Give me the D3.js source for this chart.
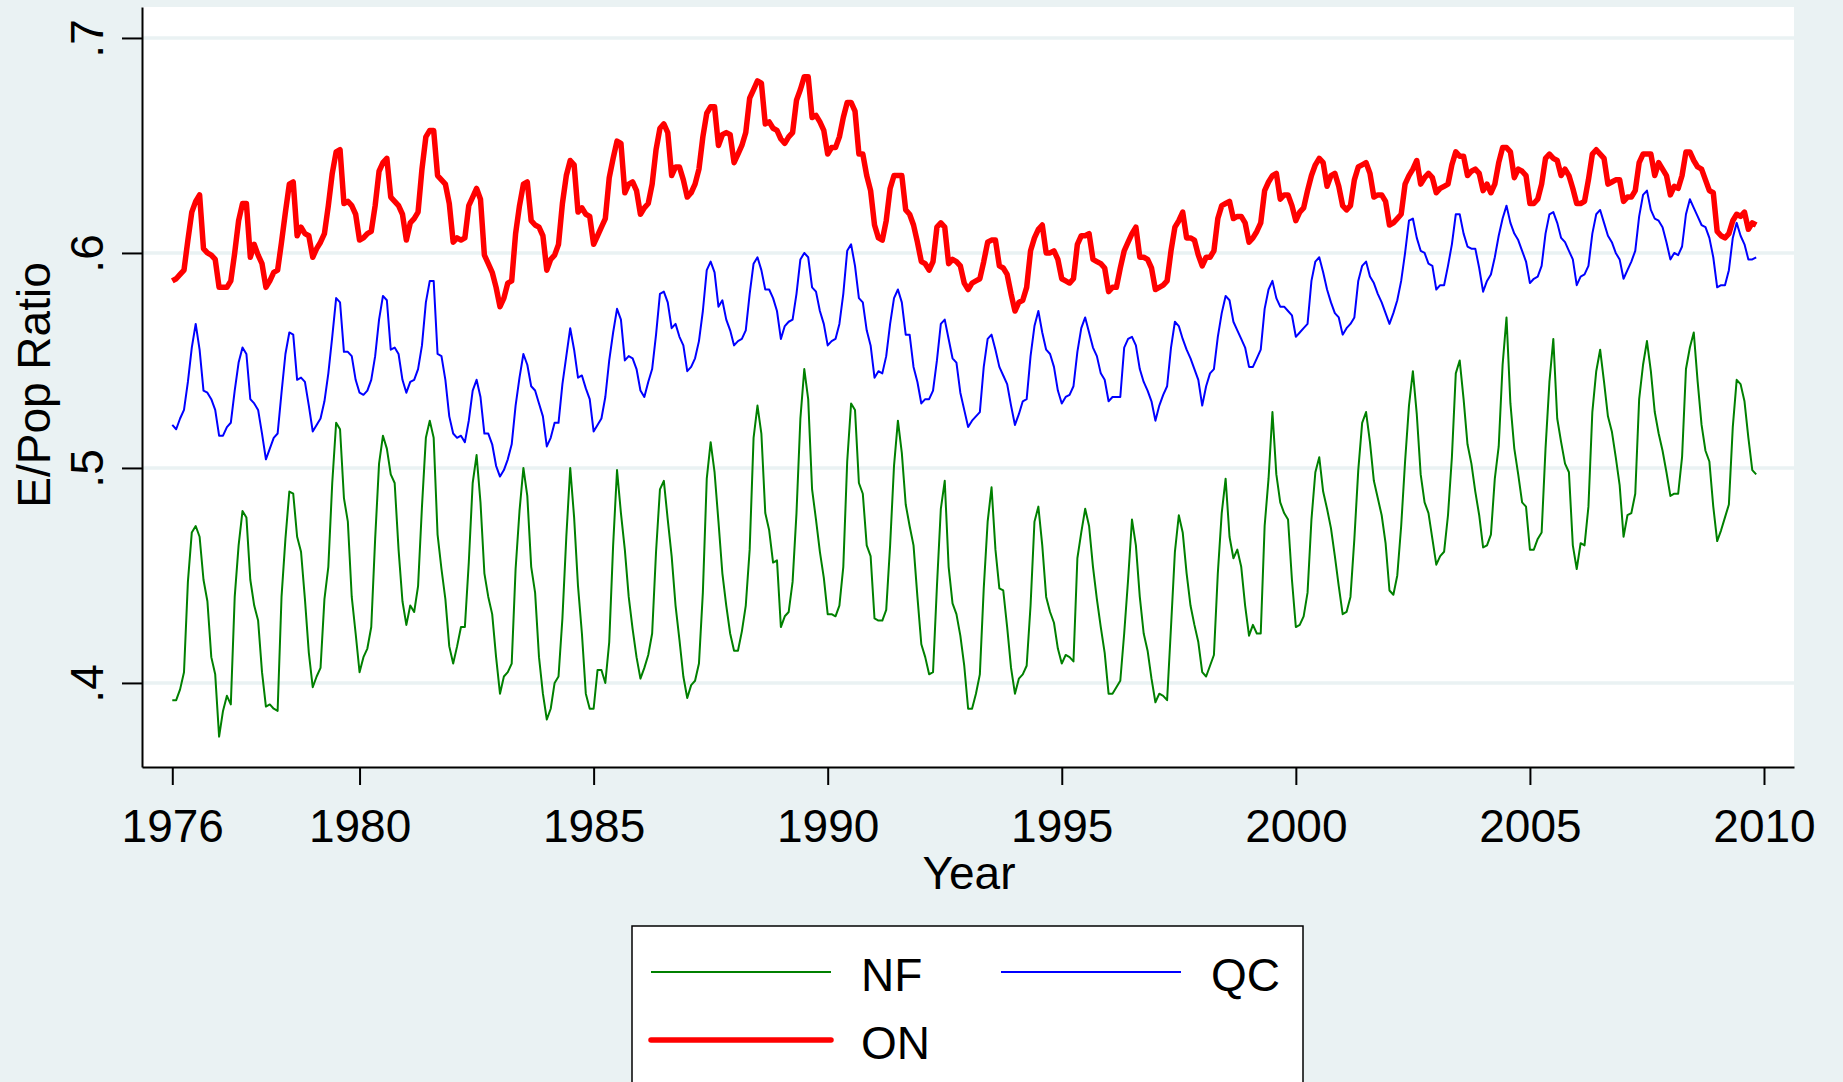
<!doctype html>
<html>
<head>
<meta charset="utf-8">
<style>
    body { margin: 0; background: #eaf2f3; }
    svg { display: block; font-family: "Liberation Sans", Arial, sans-serif; }
    .grid line { stroke: #eaf2f3; stroke-width: 3.5; }
    .axis path, .axis line { stroke: #000; stroke-width: 2; }
    .axis text { font-size: 46px; fill: #000; }
</style>
<script src="https://d3js.org/d3.v7.min.js"></script>
</head>
<body>
<svg width="1843" height="1082"></svg>
<script>
    // monthly series, Jan 1976 .. Nov 2009 (one row per year)
    var startYear = 1976;

    var nf = [
        .392,.392,.397,.405,.447,.470,.473,.468,.448,.438,.412,.404,
        .375,.387,.394,.390,.440,.464,.480,.477,.448,.436,.429,.405,
        .389,.390,.388,.387,.440,.467,.489,.488,.468,.461,.439,.414,
        .398,.403,.407,.439,.454,.493,.521,.518,.486,.475,.440,.423,
        .405,.412,.416,.426,.467,.502,.515,.509,.497,.493,.462,.438,
        .427,.436,.433,.445,.482,.514,.522,.514,.469,.453,.439,.417,
        .409,.417,.426,.426,.456,.493,.506,.484,.451,.440,.432,.412,
        .395,.403,.405,.409,.453,.480,.500,.487,.454,.442,.412,.395,
        .383,.388,.400,.403,.430,.468,.500,.477,.445,.423,.395,.388,
        .388,.406,.406,.400,.419,.464,.499,.479,.462,.440,.425,.412,
        .402,.407,.413,.423,.461,.490,.494,.476,.459,.436,.420,.403,
        .393,.399,.401,.409,.442,.495,.512,.498,.475,.451,.436,.423,
        .415,.415,.424,.436,.462,.514,.529,.516,.479,.471,.456,.457,
        .426,.431,.433,.447,.479,.523,.546,.532,.490,.476,.461,.449,
        .432,.432,.431,.436,.454,.503,.530,.527,.493,.488,.464,.459,
        .430,.429,.429,.434,.464,.501,.522,.507,.483,.473,.464,.440,
        .418,.412,.404,.405,.445,.481,.494,.454,.437,.432,.422,.408,
        .388,.388,.395,.404,.444,.475,.491,.462,.444,.443,.426,.407,
        .395,.402,.404,.408,.436,.475,.482,.464,.440,.433,.428,.416,
        .409,.413,.412,.410,.458,.470,.481,.473,.454,.439,.426,.414,
        .395,.395,.398,.401,.423,.448,.476,.464,.440,.423,.415,.402,
        .391,.395,.394,.392,.426,.461,.478,.470,.451,.436,.427,.419,
        .405,.403,.408,.413,.451,.479,.495,.468,.458,.462,.454,.436,
        .422,.427,.423,.423,.473,.495,.526,.497,.484,.479,.476,.448,
        .426,.427,.431,.442,.476,.498,.505,.489,.481,.472,.459,.445,
        .432,.433,.440,.467,.499,.521,.526,.512,.494,.486,.478,.465,
        .443,.441,.450,.473,.503,.529,.545,.525,.497,.484,.479,.467,
        .455,.459,.461,.478,.505,.544,.550,.532,.511,.502,.489,.478,
        .463,.464,.469,.495,.510,.548,.570,.530,.509,.497,.484,.482,
        .462,.462,.467,.470,.509,.540,.560,.523,.512,.502,.498,.464,
        .453,.465,.464,.482,.526,.545,.555,.540,.524,.517,.505,.492,
        .468,.478,.479,.488,.532,.548,.559,.545,.526,.516,.508,.498,
        .487,.488,.488,.505,.546,.556,.563,.540,.520,.508,.503,.482,
        .466,.471,.477,.483,.519,.541,.539,.531,.514,.499,.497
    ];

    var qc = [
        .520,.518,.523,.527,.540,.556,.567,.555,.536,.535,.532,.527,
        .515,.515,.519,.521,.536,.549,.556,.553,.532,.530,.527,.516,
        .504,.509,.514,.516,.535,.553,.563,.562,.541,.542,.540,.529,
        .517,.520,.523,.531,.544,.561,.579,.577,.554,.554,.552,.541,
        .535,.534,.536,.541,.552,.569,.580,.578,.555,.556,.553,.541,
        .535,.540,.541,.546,.557,.577,.587,.587,.553,.552,.541,.524,
        .516,.514,.515,.512,.522,.536,.541,.533,.516,.516,.511,.501,
        .496,.499,.504,.511,.529,.542,.553,.548,.538,.536,.530,.524,
        .510,.514,.521,.521,.539,.552,.565,.555,.542,.543,.537,.532,
        .517,.520,.523,.533,.550,.563,.574,.569,.550,.552,.551,.546,
        .536,.533,.540,.546,.562,.581,.582,.577,.565,.567,.561,.557,
        .545,.547,.551,.559,.573,.592,.596,.591,.575,.578,.569,.564,
        .557,.559,.560,.564,.581,.595,.598,.592,.583,.583,.579,.573,
        .560,.566,.568,.569,.581,.597,.600,.598,.584,.582,.573,.567,
        .557,.559,.560,.567,.581,.601,.604,.594,.579,.577,.564,.557,
        .542,.545,.544,.552,.567,.579,.583,.577,.562,.562,.547,.540,
        .530,.532,.532,.536,.550,.567,.569,.560,.551,.549,.535,.527,
        .519,.522,.524,.526,.547,.560,.562,.555,.547,.543,.539,.529,
        .520,.525,.531,.532,.552,.566,.573,.563,.555,.553,.547,.536,
        .530,.533,.534,.538,.554,.565,.570,.563,.556,.552,.544,.541,
        .531,.533,.533,.533,.556,.560,.561,.557,.546,.540,.536,.531,
        .522,.529,.534,.538,.556,.568,.566,.560,.555,.551,.546,.541,
        .529,.538,.544,.546,.561,.572,.580,.578,.568,.564,.560,.556,
        .547,.547,.551,.555,.574,.583,.587,.579,.575,.575,.573,.571,
        .561,.563,.565,.567,.587,.596,.598,.591,.583,.577,.572,.570,
        .562,.565,.567,.570,.587,.594,.596,.589,.586,.581,.577,.572,
        .567,.572,.578,.587,.600,.615,.616,.607,.601,.600,.595,.594,
        .583,.585,.585,.594,.604,.618,.618,.609,.603,.602,.602,.593,
        .582,.587,.590,.598,.608,.616,.622,.614,.609,.606,.601,.596,
        .586,.588,.589,.594,.609,.618,.619,.614,.607,.605,.601,.597,
        .585,.589,.590,.594,.609,.618,.620,.614,.608,.605,.600,.597,
        .588,.592,.596,.601,.617,.627,.629,.620,.616,.615,.612,.605,
        .597,.600,.599,.603,.618,.625,.621,.617,.613,.612,.607,.598,
        .584,.585,.585,.592,.607,.614,.608,.604,.597,.597,.598
    ];

    var on = [
        .587,.588,.590,.592,.606,.619,.624,.627,.602,.600,.599,.597,
        .584,.584,.584,.587,.600,.615,.623,.623,.598,.604,.599,.595,
        .584,.587,.591,.592,.605,.619,.632,.633,.608,.612,.609,.608,
        .598,.602,.605,.609,.622,.637,.647,.648,.623,.624,.622,.618,
        .606,.607,.609,.610,.622,.638,.642,.644,.626,.624,.622,.618,
        .606,.614,.616,.619,.639,.654,.657,.657,.636,.634,.632,.623,
        .605,.607,.606,.607,.622,.626,.630,.625,.599,.595,.591,.584,
        .575,.579,.586,.587,.609,.622,.632,.633,.615,.613,.612,.608,
        .592,.597,.599,.604,.623,.636,.643,.641,.619,.621,.618,.617,
        .604,.608,.612,.616,.635,.644,.652,.651,.628,.632,.633,.629,
        .618,.621,.623,.632,.648,.658,.660,.656,.636,.640,.640,.634,
        .626,.628,.632,.639,.654,.665,.668,.668,.650,.655,.656,.655,
        .642,.646,.650,.656,.672,.676,.680,.679,.660,.661,.658,.657,
        .653,.651,.654,.656,.671,.676,.682,.682,.663,.664,.661,.657,
        .646,.649,.649,.654,.663,.670,.670,.666,.646,.646,.636,.629,
        .613,.607,.606,.615,.630,.636,.636,.636,.620,.618,.613,.605,
        .596,.595,.592,.596,.612,.614,.612,.595,.597,.596,.594,.586,
        .583,.586,.587,.588,.596,.605,.606,.606,.594,.593,.590,.581,
        .573,.577,.578,.584,.601,.607,.611,.613,.600,.600,.601,.597,
        .588,.587,.586,.588,.604,.608,.608,.609,.597,.596,.595,.593,
        .582,.584,.584,.593,.601,.605,.609,.612,.598,.598,.597,.593,
        .583,.584,.585,.587,.601,.612,.615,.619,.607,.607,.606,.599,
        .594,.598,.598,.601,.616,.622,.623,.624,.616,.617,.617,.614,
        .605,.607,.610,.614,.629,.633,.636,.637,.625,.627,.627,.622,
        .615,.619,.621,.629,.636,.641,.644,.642,.631,.636,.637,.631,
        .622,.620,.622,.634,.640,.641,.642,.637,.626,.627,.627,.624,
        .613,.614,.616,.618,.632,.636,.639,.643,.632,.635,.637,.635,
        .628,.630,.631,.632,.641,.647,.645,.645,.636,.638,.639,.637,
        .629,.632,.628,.632,.642,.649,.649,.647,.635,.639,.638,.636,
        .623,.623,.625,.632,.644,.646,.644,.643,.636,.639,.636,.630,
        .623,.623,.624,.634,.646,.648,.646,.644,.632,.633,.634,.634,
        .624,.626,.626,.629,.642,.646,.646,.646,.636,.642,.639,.636,
        .627,.631,.630,.636,.647,.647,.643,.640,.639,.634,.629,.628,
        .610,.608,.607,.609,.615,.618,.617,.619,.611,.614,.613
    ];

    var xTicks = [1976, 1980, 1985, 1990, 1995, 2000, 2005, 2010];
    var yTicks = [.4, .5, .6, .7];
    var yTickLabels = [".4", ".5", ".6", ".7"];
    var seriesNames = ["NF", "QC", "ON"];
    var seriesColors = ["#008000", "#0000ff", "#ff0000"];
    var seriesWidths = [2, 2, 5.5];

    var svg = d3.select("svg"),
        plotLeft = 142, plotTop = 7,
        width = 1652, height = 760;

    var x = d3.scaleLinear().domain([1975.353, 2010.641]).range([0, width]),
        y = d3.scaleLinear().domain([0.3609, 0.7144]).range([height, 0]);

    // white plot region
    svg.append("rect")
       .attr("x", plotLeft).attr("y", plotTop)
       .attr("width", width).attr("height", height)
       .attr("fill", "#fff");

    var g = svg.append("g")
               .attr("transform", "translate(" + plotLeft + "," + plotTop + ")");

    // horizontal grid
    g.append("g")
     .attr("class", "grid")
     .selectAll("line")
     .data(yTicks)
     .enter().append("line")
     .attr("x1", 0).attr("x2", width)
     .attr("y1", function(d) { return y(d); })
     .attr("y2", function(d) { return y(d); });

    // series lines
    var line = d3.line()
        .x(function(d, i) { return x(startYear + i / 12); })
        .y(function(d) { return y(d); });

    [nf, qc, on].forEach(function(s, k) {
        g.append("path")
         .datum(s)
         .attr("fill", "none")
         .attr("stroke", seriesColors[k])
         .attr("stroke-width", seriesWidths[k])
         .attr("stroke-linejoin", "round")
         .attr("d", line);
    });

    // axes
    var yAxis = g.append("g")
     .attr("class", "axis")
     .call(d3.axisLeft(y).tickValues(yTicks).tickSize(20).tickSizeOuter(0)
             .tickFormat(function(d, i) { return yTickLabels[i]; }));
    yAxis.selectAll("text")
     .attr("transform", "rotate(-90)")
     .attr("x", 0).attr("y", -39).attr("dy", 0)
     .attr("text-anchor", "middle");

    var xAxis = g.append("g")
     .attr("class", "axis")
     .attr("transform", "translate(0," + height + ")")
     .call(d3.axisBottom(x).tickValues(xTicks).tickSize(18).tickSizeOuter(0)
             .tickFormat(d3.format("d")));
    xAxis.selectAll("text").attr("y", 75).attr("dy", 0);
    g.selectAll(".axis").attr("font-family", null).attr("font-size", null);

    // axis titles
    svg.append("text")
       .attr("x", 969).attr("y", 889)
       .attr("text-anchor", "middle")
       .attr("font-size", "46px")
       .text("Year");

    svg.append("text")
       .attr("transform", "translate(50,385) rotate(-90)")
       .attr("text-anchor", "middle")
       .attr("font-size", "46px")
       .text("E/Pop Ratio");

    // legend
    var legend = svg.append("g");
    legend.append("rect")
          .attr("x", 632).attr("y", 926)
          .attr("width", 671).attr("height", 200)
          .attr("fill", "#fff").attr("stroke", "#000").attr("stroke-width", 1.5);

    var legendPos = [[651, 972], [1001, 972], [651, 1040]];
    seriesNames.forEach(function(name, k) {
        var p = legendPos[k];
        legend.append("line")
              .attr("x1", p[0]).attr("x2", p[0] + 180)
              .attr("y1", p[1]).attr("y2", p[1])
              .attr("stroke", seriesColors[k])
              .attr("stroke-width", seriesWidths[k])
              .attr("stroke-linecap", k == 2 ? "round" : "butt");
        legend.append("text")
              .attr("x", p[0] + 210).attr("y", p[1] + 19)
              .attr("font-size", "46px")
              .text(name);
    });
</script>
</body>
</html>
